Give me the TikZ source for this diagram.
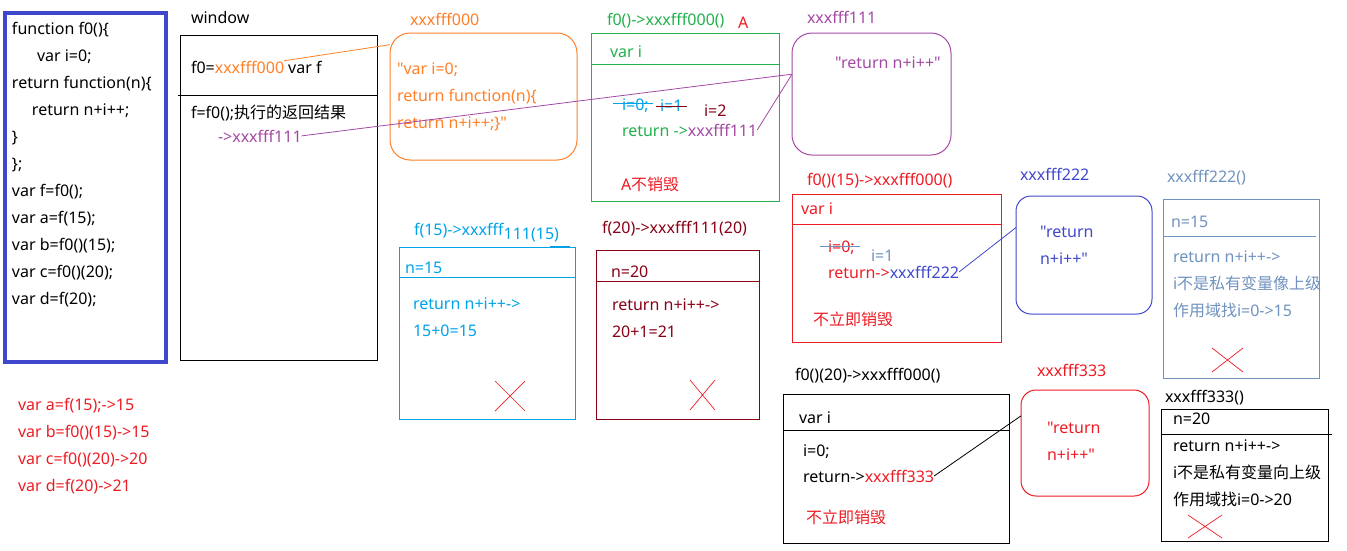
\documentclass[tikz,border=0pt]{standalone}
\usepackage{fontspec}
\setmainfont{Noto Sans}[Ligatures=TeXOff]
\newfontfamily\cjk{Noto Sans CJK SC}[Ligatures=TeXOff]
\usepackage{xcolor}
\usepackage{tikz}
\usetikzlibrary{positioning}
\definecolor{pindigo}{HTML}{3F48CC}
\definecolor{porange}{HTML}{FF7F27}
\definecolor{ppurple}{HTML}{A349A4}
\definecolor{pgreen}{HTML}{22B14C}
\definecolor{pred}{HTML}{ED1C24}
\definecolor{pcyan}{HTML}{00A2E8}
\definecolor{pdark}{HTML}{880015}
\definecolor{pgray}{HTML}{7092BE}
\renewcommand{\arraystretch}{1.5}
\tikzset{
	txt/.style={anchor=base west, inner sep=0pt, outer sep=0pt},
	blk/.style={anchor=north west, inner sep=0pt, outer sep=0pt},
	frame/.style={draw, line width=1pt, anchor=north west, inner sep=0pt, outer sep=0pt},
	link/.style={line width=0.8pt},
	cross/.style={draw=pred, line width=0.7pt}
}

\begin{document}
\begin{tikzpicture}[x=1pt, y=-1pt, font=\fontsize{16}{18}\selectfont]
	\useasboundingbox (0,0) rectangle (1347,550);

	\draw[pindigo, line width=4pt] (5,13) rectangle (166,362);
	\node[blk] (code) at (12,16)
	{\begin{tabular}{@{}l@{}}
		function f0()\{\\
		\hspace*{25pt}var i=0;\\
		return function(n)\{\\
		\hspace*{20pt}return n+i++;\\
		\}\\
		\};\\
		var f=f0();\\
		var a=f(15);\\
		var b=f0()(15);\\
		var c=f0()(20);\\
		var d=f(20);
	\end{tabular}};
	\node[blk, text=pred] (result) at (18,392)
	{\begin{tabular}{@{}l@{}}
		var a=f(15);->15\\
		var b=f0()(15)->15\\
		var c=f0()(20)->20\\
		var d=f(20)->21
	\end{tabular}};

	\node[txt] (lwin) at (191,23) {window};
	\node[frame, minimum width=197, minimum height=325] (win) at (180,35) {};
	\draw[line width=1pt] (178,95) -- (378,95);
	\node[txt] (w0) at (191,73) {f0=};
	\node[txt, text=porange, base right=0pt of w0] (w000) {xxxfff000};
	\node[txt, base right=4pt of w000] (wf) {var f};
	\node[txt] (w1) at (191,118) {f=f0();{\cjk 执行的返回结果}};
	\node[txt, text=ppurple] (w111) at (218,142) {->xxxfff111};

	\node[txt, text=porange] (l000) at (410,25) {xxxfff000};
	\node[frame, draw=porange, rounded corners=20, minimum width=187, minimum height=127] (box000) at (390,33) {};
	\node[blk, text=porange] (t000) at (397,56)
	{\begin{tabular}{@{}l@{}}
		"var i=0;\\
		return function(n)\{\\
		return n+i++;\}"
	\end{tabular}};

	\node[txt, text=pgreen] (lA) at (607,25) {f0()->xxxfff000()};
	\node[txt, text=pred] (la) at (738,28) {A};
	\node[frame, draw=pgreen, minimum width=188, minimum height=168] (boxA) at (591,33) {};
	\draw[pgreen, line width=1pt] (591,64) -- (779,64);
	\node[txt, text=pgreen] (gi) at (610,57) {var i};
	\node[txt, text=pcyan] (gi0) at (622,110) {i=0;};
	\node[txt, text=pcyan] (gi1) at (660,111) {i=1};
	\node[txt, text=pdark] (gi2) at (704,116) {i=2};
	\draw[pcyan, line width=1pt] (613,103) -- (653,103);
	\draw[pdark, line width=1pt] (656,106) -- (687,106);
	\node[txt, text=pgreen] (gret) at (622,136) {return ->};
	\node[txt, text=ppurple, base right=0pt of gret] (g111) {xxxfff111};
	\node[txt, text=pred] (gkeep) at (621,190) {A{\cjk 不销毁}};

	\node[txt, text=ppurple] (l111) at (807,23) {xxxfff111};
	\node[frame, draw=ppurple, rounded corners=20, minimum width=159, minimum height=122] (box111) at (792,33) {};
	\node[txt, text=ppurple] (t111) at (835,68) {"return n+i++"};

	\node[txt, text=pcyan] (lf15) at (414,235) {f(15)->xxxfff};
	\node[txt, text=pcyan, base right=0pt of lf15, yshift=-4pt] (lf15b) {111(15)};
	\node[frame, draw=pcyan, minimum width=176, minimum height=172] (boxf15) at (399,247) {};
	\draw[pcyan, line width=1pt] (399,277) -- (576,277);
	\draw[pcyan, line width=2pt] (550,247) -- (570,247);
	\node[txt, text=pcyan] (n15) at (405,273) {n=15};
	\node[blk, text=pcyan] (tf15) at (413,291)
	{\begin{tabular}{@{}l@{}}
		return n+i++->\\
		15+0=15
	\end{tabular}};
	\draw[cross] (495,381) -- (525,411) (495,411) -- (525,381);

	\node[txt, text=pdark] (lf20) at (602,233) {f(20)->xxxfff111(20)};
	\node[frame, draw=pdark, minimum width=163, minimum height=169] (boxf20) at (596,250) {};
	\draw[pdark, line width=1pt] (596,281) -- (759,281);
	\node[txt, text=pdark] (n20) at (611,277) {n=20};
	\node[blk, text=pdark] (tf20) at (612,292)
	{\begin{tabular}{@{}l@{}}
		return n+i++->\\
		20+1=21
	\end{tabular}};
	\draw[cross] (690,380) -- (715,410) (690,410) -- (715,380);

	\node[txt, text=pred] (lB) at (807,185) {f0()(15)->xxxfff000()};
	\node[frame, draw=pred, minimum width=209, minimum height=148] (boxB) at (792,194) {};
	\draw[pred, line width=1pt] (792,224) -- (1001,224);
	\node[txt, text=pred] (bi) at (801,214) {var i};
	\node[txt, text=pred] (bi0) at (828,252) {i=0;};
	\draw[pgray, line width=1pt] (820,246) -- (860,246);
	\node[txt, text=pgray] (bi1) at (871,261) {i=1};
	\node[txt, text=pred] (bret) at (828,278) {return->};
	\node[txt, text=pindigo, base right=0pt of bret] (b222) {xxxfff222};
	\node[txt, text=pred] (bkeep) at (813,325) {\cjk 不立即销毁};

	\node[txt, text=pindigo] (l222) at (1020,180) {xxxfff222};
	\node[frame, draw=pindigo, rounded corners=15, minimum width=136, minimum height=118] (box222) at (1016,196) {};
	\node[blk, text=pindigo] (t222) at (1040,219)
	{\begin{tabular}{@{}l@{}}
		"return\\
		n+i++"
	\end{tabular}};

	\node[txt, text=pgray] (lr15) at (1167,182) {xxxfff222()};
	\node[frame, draw=pgray, minimum width=156, minimum height=179] (boxr15) at (1163,199) {};
	\draw[pgray, line width=1pt] (1163,236) -- (1316,236);
	\node[txt, text=pgray] (r15) at (1171,227) {n=15};
	\node[blk, text=pgray] (tr15) at (1173,244)
	{\begin{tabular}{@{}l@{}}
		return n+i++->\\
		i{\cjk 不是私有变量像上级}\\
		{\cjk 作用域找}i=0->15
	\end{tabular}};
	\draw[cross] (1212,348) -- (1243,372) (1212,372) -- (1243,348);

	\node[txt] (lC) at (795,380) {f0()(20)->xxxfff000()};
	\node[frame, minimum width=226, minimum height=149] (boxC) at (783,394) {};
	\draw[line width=1pt] (783,430) -- (1009,430);
	\node[txt] (ci) at (799,423) {var i};
	\node[txt] (ci0) at (803,456) {i=0;};
	\node[txt] (cret) at (803,482) {return->};
	\node[txt, text=pred, base right=0pt of cret] (c333) {xxxfff333};
	\node[txt, text=pred] (ckeep) at (806,523) {\cjk 不立即销毁};

	\node[txt, text=pred] (l333) at (1037,376) {xxxfff333};
	\node[frame, draw=pred, rounded corners=15, minimum width=128, minimum height=106] (box333) at (1021,390) {};
	\node[blk, text=pred] (t333) at (1047,415)
	{\begin{tabular}{@{}l@{}}
		"return\\
		n+i++"
	\end{tabular}};

	\node[txt] (lr20) at (1165,402) {xxxfff333()};
	\node[frame, minimum width=167, minimum height=132] (boxr20) at (1161,409) {};
	\draw[line width=1pt] (1162,434) -- (1332,434);
	\node[txt] (r20) at (1173,424) {n=20};
	\node[blk] (tr20) at (1173,433)
	{\begin{tabular}{@{}l@{}}
		return n+i++->\\
		i{\cjk 不是私有变量向上级}\\
		{\cjk 作用域找}i=0->20
	\end{tabular}};
	\draw[cross] (1188,515) -- (1222,538) (1188,538) -- (1222,515);

	\draw[link, porange] (w000.north east) -- (box000.151);
	\draw[link, ppurple] (w111.east) -- (box111.166);
	\draw[link, ppurple] (g111.east) -- (box111.166);
	\draw[link, pindigo] (b222.east) -- (box222.158);
	\draw[link] (c333.east) -- (box333.157);
\end{tikzpicture}
\end{document}
